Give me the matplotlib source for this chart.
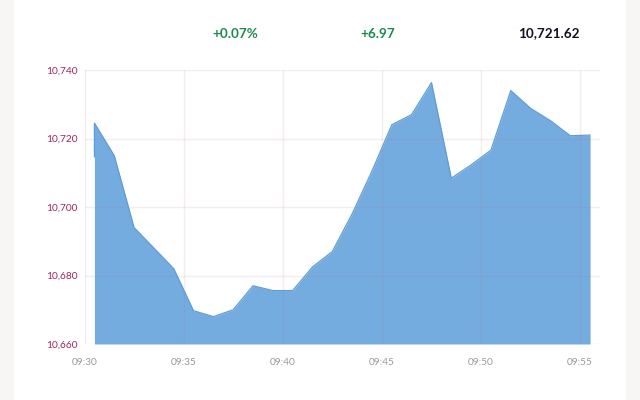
#!/usr/bin/env python3
# -*- coding: utf-8 -*-
import matplotlib
matplotlib.use("Agg")
import matplotlib.pyplot as plt
from matplotlib.patches import Rectangle

# minutes after 09:30
minutes = [0.5, 0.5, 1.5, 2.5, 3.5, 4.5, 5.5, 6.5, 7.5, 8.5, 9.5, 10.5, 11.5, 12.5,
           13.5, 14.5, 15.5, 16.5, 17.5, 18.5, 19.5, 20.5, 21.5, 22.5, 23.5, 24.5, 25.5]
values = [10714.7, 10724.5, 10715, 10694, 10688, 10682, 10669.7, 10668, 10670, 10677,
          10675.6, 10675.6, 10682.5, 10687, 10698, 10710.5, 10724, 10727, 10736.3,
          10708.4, 10712.3, 10716.6, 10734, 10728.8, 10725.2, 10720.8, 10721]

y_ticks = [10660, 10680, 10700, 10720, 10740]
x_ticks = [0, 5, 10, 15, 20, 25]
x_labels = ["09:30", "09:35", "09:40", "09:45", "09:50", "09:55"]

pct_change = "+0.07%"
abs_change = "+6.97"
last_value = "10,721.62"

W, H = 640, 400
plt.rcParams["font.family"] = ["Lato", "DejaVu Sans"]

fig = plt.figure(figsize=(W / 100, H / 100), dpi=100, facecolor="white")

# faixas claras nas laterais
fig.add_artist(Rectangle((0, 0), 14 / W, 1, transform=fig.transFigure, color="#f8f6f5", lw=0))
fig.add_artist(Rectangle((626 / W, 0), 14 / W, 1, transform=fig.transFigure, color="#f8f6f5", lw=0))

ax = fig.add_axes([84.5 / W, (H - 344) / H, (600 - 84.5) / W, (344 - 70) / H])
ax.set_xlim(0, 26)
ax.set_ylim(10660, 10740)

ax.fill_between(minutes[1:], values[1:], 10660, color="#75ace0", lw=0, zorder=2)
ax.plot(minutes, values, color="#5f9dd6", lw=0.9, zorder=3)

ax.grid(True, color="#a86a7c", alpha=0.12, lw=1.0, zorder=4)
ax.set_axisbelow(False)
for s in ax.spines.values():
    s.set_visible(False)

ax.set_yticks(y_ticks)
ax.set_yticklabels([f"{v:,}" for v in y_ticks], color="#a3245f", fontsize=7.3)
ax.set_xticks(x_ticks)
ax.set_xticklabels(x_labels, color="#9a9a9a", fontsize=7.3)
ax.tick_params(axis="both", length=0)
ax.tick_params(axis="y", pad=5)
ax.tick_params(axis="x", pad=10)

fig.text(235.5 / W, (H - 33.5) / H, pct_change, color="#1b8a4e", fontsize=9.7, fontweight="bold", ha="center", va="center")
fig.text(378 / W, (H - 33.5) / H, abs_change, color="#1b8a4e", fontsize=9.7, fontweight="bold", ha="center", va="center")
fig.text(549 / W, (H - 33.5) / H, last_value, color="#111122", fontsize=9.7, fontweight="bold", ha="center", va="center")

fig.savefig("out.png", dpi=100)
